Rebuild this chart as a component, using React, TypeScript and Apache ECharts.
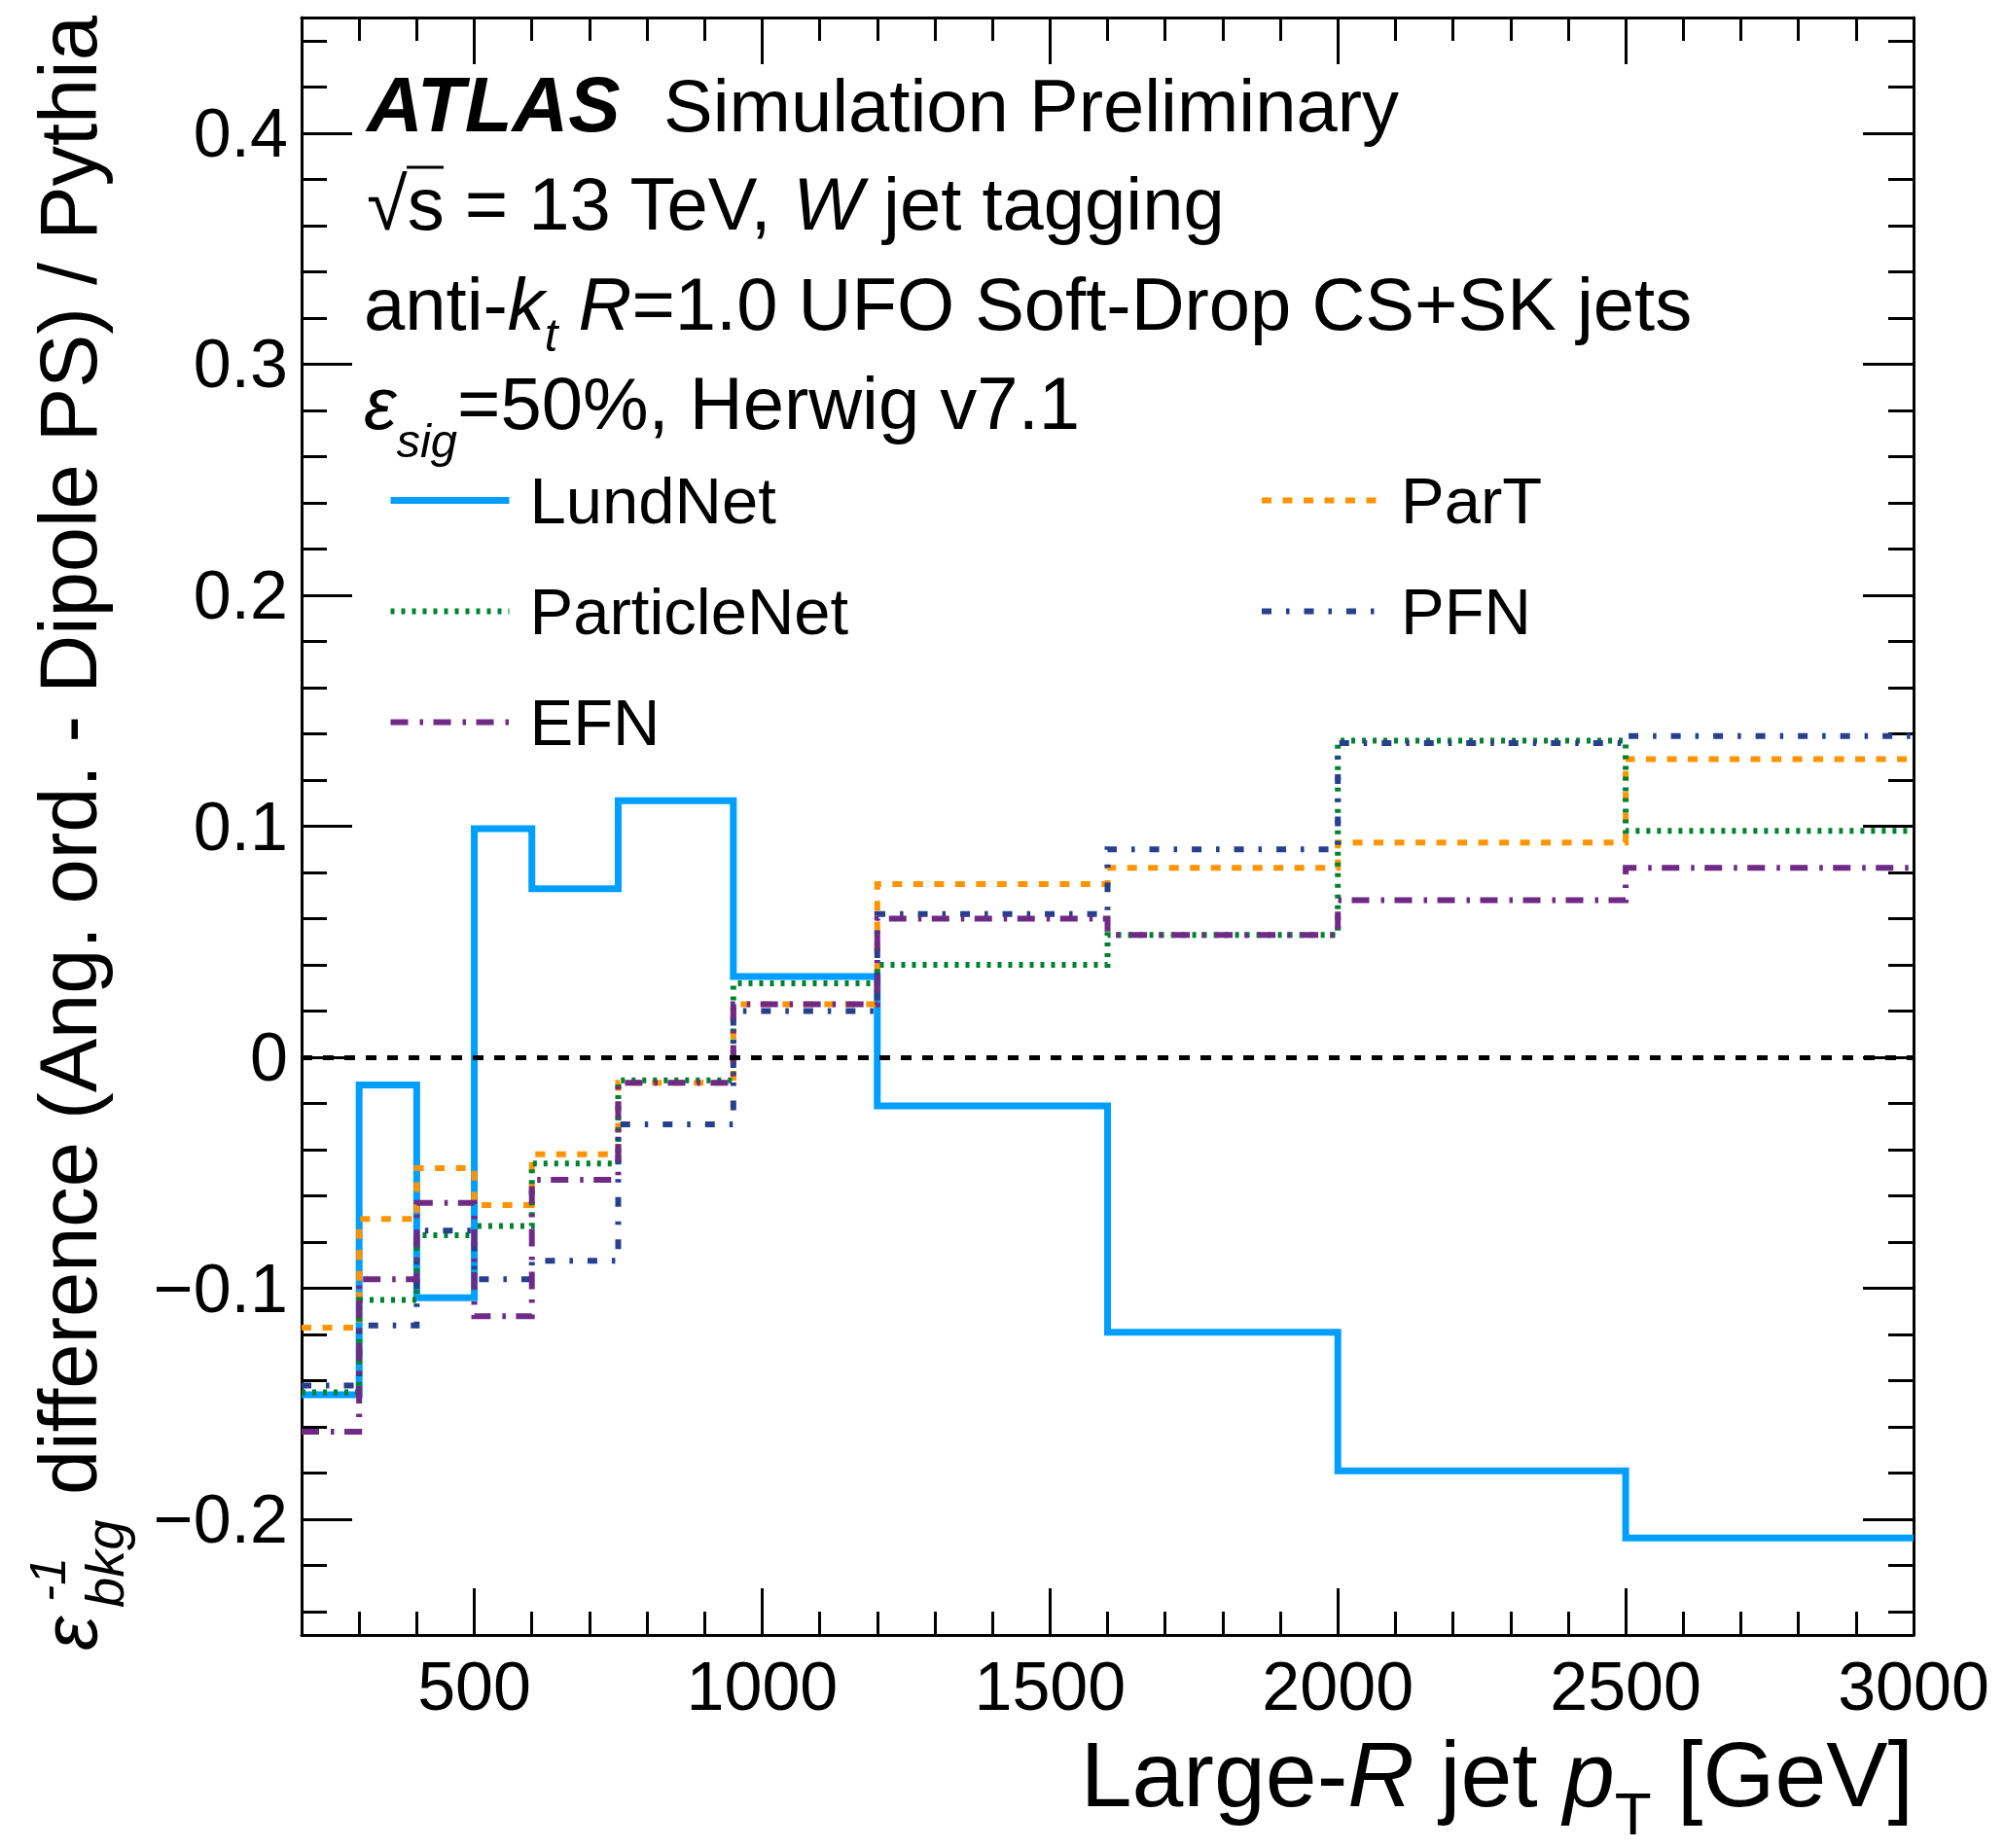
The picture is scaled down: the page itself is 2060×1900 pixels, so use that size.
import React, { useEffect, useRef } from 'react';
import * as echarts from 'echarts';

// ---------------- data ----------------
const BIN_EDGES = [200, 300, 400, 500, 600, 750, 950, 1200, 1600, 2000, 2500, 3000];
const LUNDNET = [-0.146, -0.012, -0.104, 0.099, 0.073, 0.111, 0.035, -0.021, -0.119, -0.179, -0.208];
const PART = [-0.117, -0.070, -0.048, -0.064, -0.042, -0.011, 0.023, 0.075, 0.082, 0.093, 0.129];
const PARTICLENET = [-0.145, -0.105, -0.077, -0.073, -0.046, -0.010, 0.032, 0.040, 0.053, 0.137, 0.098];
const PFN = [-0.142, -0.116, -0.075, -0.096, -0.088, -0.029, 0.020, 0.062, 0.090, 0.136, 0.139];
const EFN = [-0.162, -0.096, -0.063, -0.112, -0.053, -0.011, 0.023, 0.060, 0.053, 0.068, 0.082];

const X_MAJOR = [500, 1000, 1500, 2000, 2500, 3000];
const X_MINOR = [200, 300, 400, 500, 600, 700, 800, 900, 1000, 1100, 1200, 1300, 1400, 1500, 1600, 1700, 1800, 1900, 2000, 2100, 2200, 2300, 2400, 2500, 2600, 2700, 2800, 2900, 3000];
const Y_MAJOR = [-0.2, -0.1, 0, 0.1, 0.2, 0.3, 0.4];
const Y_MINOR = [-0.24, -0.22, -0.2, -0.18, -0.16, -0.14, -0.12, -0.1, -0.08, -0.06, -0.04, -0.02, 0, 0.02, 0.04, 0.06, 0.08, 0.1, 0.12, 0.14, 0.16, 0.18, 0.2, 0.22, 0.24, 0.26, 0.28, 0.3, 0.32, 0.34, 0.36, 0.38, 0.4, 0.42, 0.44];

const FONT = "'Liberation Sans', Arial, Helvetica, sans-serif";
const CENTRAL = 0.3465; // central-baseline offset (em)

const steps = (vals: number[]) => BIN_EDGES.map((e, i) => [e, vals[Math.min(i, vals.length - 1)]]);

const mkSeries = (name: string, vals: number[], color: string, width: number, dash: any, extra: any = {}) => ({
  type: 'line',
  name,
  data: steps(vals),
  step: 'end',
  symbol: 'none',
  showSymbol: false,
  silent: true,
  itemStyle: { color },
  lineStyle: { color, width, type: dash, cap: 'butt', join: 'miter' },
  emphasis: { disabled: true },
  ...extra,
});

type Piece = { t: string; size: number; italic?: boolean; bold?: boolean; dy?: number };

let measureCtx: CanvasRenderingContext2D | null = null;
const fontStr = (p: Piece) => `${p.italic ? 'italic ' : ''}${p.bold ? 'bold ' : ''}${p.size}px ${FONT}`;
const measure = (p: Piece) => {
  if (!measureCtx) measureCtx = document.createElement('canvas').getContext('2d');
  measureCtx!.font = fontStr(p);
  return measureCtx!.measureText(p.t).width;
};

// lay out a line of text pieces on a common baseline
const textLine = (x0: number, baseline: number, pieces: Piece[], alignRight = false) => {
  const widths = pieces.map(measure);
  const total = widths.reduce((a, b) => a + b, 0);
  let x = alignRight ? x0 - total : x0;
  const out: any[] = [];
  pieces.forEach((p, k) => {
    out.push({
      type: 'text',
      x,
      y: baseline + (p.dy || 0) - CENTRAL * p.size,
      silent: true,
      style: {
        text: p.t, fontSize: p.size, fontFamily: FONT,
        fontStyle: p.italic ? 'italic' : 'normal', fontWeight: p.bold ? 'bold' : 'normal',
        fill: '#000', align: 'left', verticalAlign: 'middle',
      },
    });
    x += widths[k];
  });
  return out;
};

const HF = 76;
const HS = 49; // subscript size
const XF = 95;
const YF = 83;
const rot = Math.PI / 2;

export default function App() {
  const ref = useRef<HTMLDivElement>(null);
  useEffect(() => {
    const chart = echarts.init(ref.current!, null, { renderer: 'svg' });
    const frameLine = { show: true, onZero: false, lineStyle: { color: '#000', width: 3 } };
    const noLine = { show: false, onZero: false };
    const tickStyle = { color: '#000', width: 3 };
    const xCommon = { type: 'value', min: 200, max: 3000, splitLine: { show: false } };
    const yCommon = { type: 'value', min: -0.25, max: 0.45, splitLine: { show: false } };
    const labelStyle = { fontSize: 70, fontFamily: FONT, color: '#000', lineHeight: 70 };
    const yFmt = (v: number) => {
      if (Math.abs(v) < 1e-9) return '0';
      return v < 0 ? '\u2212' + Math.abs(v).toFixed(1) : v.toFixed(1);
    };
    const xFmt = (v: number) => String(Math.round(v));

    const legendCommon = {
      orient: 'vertical',
      itemWidth: 122,
      itemHeight: 20,
      itemGap: 47,
      padding: 0,
      selectedMode: false,
      itemStyle: { opacity: 0 },
      lineStyle: { width: 'inherit' },
      textStyle: { fontSize: 67, fontFamily: FONT, color: '#000', lineHeight: 67, padding: [0, 0, 0, 16] },
    };

    const header = [
      ...textLine(377, 135, [{ t: 'ATLAS', size: 80, italic: true, bold: true }]),
      ...textLine(682, 135, [{ t: 'Simulation Preliminary', size: HF }]),
      ...textLine(377, 236, [
        { t: '\u221As = 13 TeV, ', size: HF },
        { t: 'W', size: HF, italic: true },
        { t: ' jet tagging', size: HF },
      ]),
      ...textLine(374, 339, [
        { t: 'anti-', size: HF },
        { t: 'k', size: HF, italic: true },
        { t: 't', size: HS, italic: true, dy: 22 },
        { t: ' ', size: HF },
        { t: 'R', size: HF, italic: true },
        { t: '=1.0 UFO Soft-Drop CS+SK jets', size: HF },
      ]),
      ...textLine(374, 441, [
        { t: '\u03B5', size: HF, italic: true },
        { t: 'sig', size: HS, italic: true, dy: 29 },
        { t: '=50%, Herwig v7.1', size: HF },
      ]),
      ...textLine(1967, 1857, [
        { t: 'Large-', size: XF },
        { t: 'R', size: XF, italic: true },
        { t: ' jet ', size: XF },
        { t: 'p', size: XF, italic: true },
        { t: 'T', size: 62, dy: 29 },
        { t: ' [GeV]', size: XF },
      ], true),
    ];

    const option: any = {
      animation: false,
      backgroundColor: '#fff',
      grid: { left: 310, right: 93, top: 18, bottom: 219, outerBoundsMode: 'none', containLabel: false },
      xAxis: [
        { ...xCommon, position: 'bottom', axisLine: frameLine,
          axisTick: { show: true, inside: true, length: 48, lineStyle: tickStyle, customValues: X_MAJOR },
          axisLabel: { show: true, customValues: X_MAJOR, margin: 18, formatter: xFmt, ...labelStyle } },
        { ...xCommon, position: 'bottom', axisLine: noLine,
          axisTick: { show: true, inside: true, length: 24, lineStyle: tickStyle, customValues: X_MINOR },
          axisLabel: { show: false } },
        { ...xCommon, position: 'top', axisLine: frameLine,
          axisTick: { show: true, inside: true, length: 48, lineStyle: tickStyle, customValues: X_MAJOR },
          axisLabel: { show: false } },
        { ...xCommon, position: 'top', axisLine: noLine,
          axisTick: { show: true, inside: true, length: 24, lineStyle: tickStyle, customValues: X_MINOR },
          axisLabel: { show: false } },
      ],
      yAxis: [
        { ...yCommon, position: 'left', axisLine: frameLine,
          axisTick: { show: true, inside: true, length: 52, lineStyle: tickStyle, customValues: Y_MAJOR },
          axisLabel: { show: true, customValues: Y_MAJOR, margin: 14, formatter: yFmt, ...labelStyle } },
        { ...yCommon, position: 'left', axisLine: noLine,
          axisTick: { show: true, inside: true, length: 26, lineStyle: tickStyle, customValues: Y_MINOR },
          axisLabel: { show: false } },
        { ...yCommon, position: 'right', axisLine: frameLine,
          axisTick: { show: true, inside: true, length: 52, lineStyle: tickStyle, customValues: Y_MAJOR },
          axisLabel: { show: false } },
        { ...yCommon, position: 'right', axisLine: noLine,
          axisTick: { show: true, inside: true, length: 26, lineStyle: tickStyle, customValues: Y_MINOR },
          axisLabel: { show: false } },
      ],
      legend: [
        { ...legendCommon, left: 398, top: 481, data: ['LundNet', 'ParticleNet', 'EFN'] },
        { ...legendCommon, left: 1294, top: 481, data: ['ParT', 'PFN'] },
      ],
      series: [
        mkSeries('LundNet', LUNDNET, '#009FFF', 7, 'solid', {
          markLine: {
            silent: true,
            symbol: ['none', 'none'],
            label: { show: false },
            lineStyle: { color: '#000', width: 5, type: [11, 11], cap: 'butt' },
            emphasis: { disabled: true },
            data: [{ yAxis: 0 }],
          },
        }),
        mkSeries('ParT', PART, '#FF9400', 6, [10, 11.5]),
        mkSeries('ParticleNet', PARTICLENET, '#00822E', 6, [4, 7]),
        mkSeries('PFN', PFN, '#283F8E', 6, [10, 15, 3.5, 15]),
        mkSeries('EFN', EFN, '#6F2A85', 6, [18, 12, 3.5, 10.5]),
      ],
      graphic: [
        ...header,
        { type: 'line', silent: true, shape: { x1: 418, y1: 172, x2: 456, y2: 172 }, style: { stroke: '#000', lineWidth: 3 } },
        // y-axis title (rotated)
        { type: 'text', x: 99 - CENTRAL * 80, y: 1697, rotation: rot, silent: true,
          style: { text: '\u03B5', fontSize: 80, fontFamily: FONT, fontStyle: 'italic', fill: '#000', align: 'left', verticalAlign: 'middle' } },
        { type: 'text', x: 67 - CENTRAL * 52, y: 1647, rotation: rot, silent: true,
          style: { text: '-1', fontSize: 52, fontFamily: FONT, fontStyle: 'italic', fill: '#000', align: 'left', verticalAlign: 'middle' } },
        { type: 'text', x: 127 - CENTRAL * 56, y: 1653, rotation: rot, silent: true,
          style: { text: 'bkg', fontSize: 56, fontFamily: FONT, fontStyle: 'italic', fill: '#000', align: 'left', verticalAlign: 'middle' } },
        { type: 'text', x: 99 - CENTRAL * YF, y: 1537, rotation: rot, silent: true,
          style: { text: 'difference (Ang. ord. - Dipole PS) / Pythia', fontSize: YF, fontFamily: FONT, fill: '#000', align: 'left', verticalAlign: 'middle' } },
      ],
    };
    chart.setOption(option);
    return () => chart.dispose();
  }, []);
  return <div ref={ref} style={{ position: 'absolute', left: 0, top: 0, width: 2060, height: 1900, background: '#fff' }} />;
}
